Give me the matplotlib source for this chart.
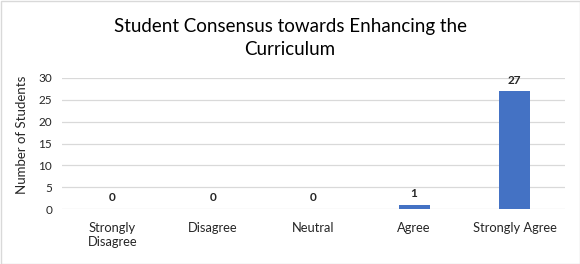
import matplotlib
matplotlib.use("Agg")
import matplotlib.pyplot as plt
from matplotlib.patches import Rectangle

categories = ["Strongly\nDisagree", "Disagree", "Neutral", "Agree", "Strongly Agree"]
values = [0, 0, 0, 1, 27]
yticks = [0, 5, 10, 15, 20, 25, 30]

plt.rcParams['font.family'] = ['Lato', 'DejaVu Sans']

W, H = 580, 264
fig = plt.figure(figsize=(W/100, H/100), dpi=100)
ax = fig.add_axes([62/W, 1-209/H, (565-62)/W, (209-78)/H])

x = list(range(len(categories)))
bars = ax.bar(x, values, width=0.31, color="#4472C4", zorder=3)
for xi, v in zip(x, values):
    ax.annotate(str(v), (xi, v), xytext=(0, 4), textcoords="offset points",
                ha="center", va="bottom", fontsize=8.5, fontweight="bold", color="#262626")

ax.set_xlim(-0.5, len(categories)-0.5)
ax.set_ylim(0, 30)
ax.set_yticks(yticks)
ax.set_xticks(x)
ax.set_xticklabels(categories, fontsize=9.3, color="#262626", va="top", linespacing=1.2)
ax.tick_params(axis="y", labelsize=8.5, colors="#262626", length=0, pad=7)
ax.tick_params(axis="x", length=0, pad=9)
ax.grid(axis="y", color="#d9d9d9", linewidth=0.9, zorder=0)
for s in ax.spines.values():
    s.set_visible(False)
ax.set_ylabel("Number of Students", fontsize=9.5, color="#262626")
ax.yaxis.set_label_coords(-(62-28)/(565-62), (209-135)/(209-78))

fig.text(0.5, 1-32/H, "Student Consensus towards Enhancing the", ha="center", va="baseline", fontsize=13.5, color="#000000")
fig.text(0.5, 1-55/H, "Curriculum", ha="center", va="baseline", fontsize=13.5, color="#000000")

fig.patches.append(Rectangle((0.5/W, 0.5/H), 1-1/W, 1-1/H, transform=fig.transFigure,
                             fill=False, edgecolor="#d9d9d9", linewidth=1))

fig.savefig("out.png", dpi=100)
